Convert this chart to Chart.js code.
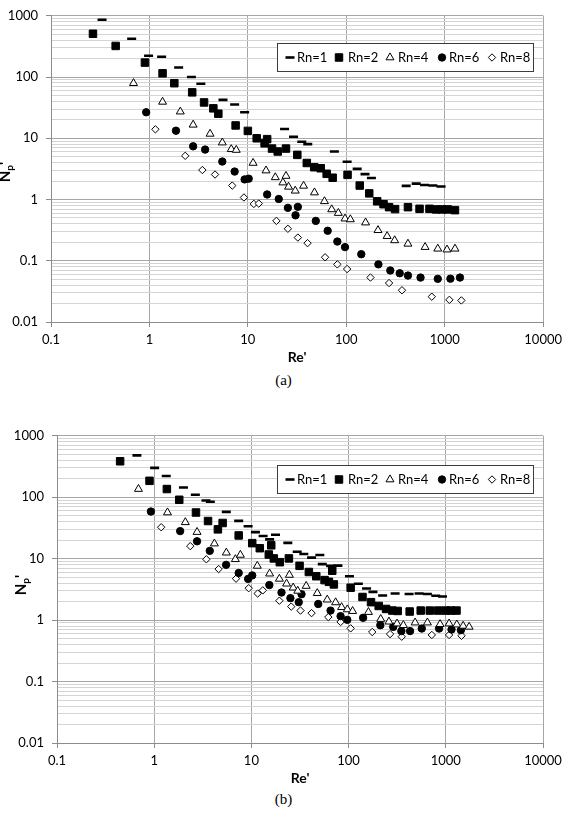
<!DOCTYPE html>
<html><head><meta charset="utf-8">
<script src="https://cdn.jsdelivr.net/npm/chart.js@4.4.1/dist/chart.umd.min.js"></script>
<style>
body{margin:0;background:#fff;width:567px;height:815px;position:relative;overflow:hidden;font-family:Lato,sans-serif}
.wrap{position:absolute;left:0;width:567px;height:370px}
canvas{display:block}
.ytitle{position:absolute;width:40px;height:20px;line-height:20px;text-align:center;font:bold 15px Lato,sans-serif;transform:rotate(-90deg);color:#000;white-space:nowrap}
.ytitle sub{font-size:10px;vertical-align:-3px}
.cap{position:absolute;left:0;width:567px;text-align:center;font:15px "Liberation Serif",serif;color:#000}
</style></head>
<body>
<div class="wrap" style="top:0"><canvas id="ca" width="567" height="370"></canvas></div>
<div class="wrap" style="top:420px"><canvas id="cb" width="567" height="370"></canvas></div>
<div class="ytitle" style="left:-15px;top:162px">N<sub>p</sub>'</div>
<div class="ytitle" style="left:1px;top:575px">N<sub>p</sub>'</div>
<div class="cap" style="top:372px">(a)</div>
<div class="cap" style="top:791px">(b)</div>
<script>
// ---------- data ----------
const seriesLabels = ['Rn=1','Rn=2','Rn=4','Rn=6','Rn=8'];
const xTickValues = [0.1,1,10,100,1000,10000];
const xTickLabels = ['0.1','1','10','100','1000','10000'];
const yTickValues = [0.01,0.1,1,10,100,1000];
const yTickLabels = ['0.01','0.1','1','10','100','1000'];

// (a)
const a_rn1_re = [0.33,0.66,0.98,1.33,1.98,2.67,3.33,5.59,7.34,9.27,23.6,29.1,35.3,40.6,75.7,102,129,155,180,406,513,624,757,918];
const a_rn1_np = [863,423,223,215,143,100,77.5,42.4,35.7,26.6,14.2,10.6,8.79,8.04,6.08,4.14,3.16,2.60,2.24,1.67,1.82,1.73,1.69,1.63];
const a_rn2_re = [0.267,0.454,0.90,1.36,1.79,2.72,3.59,4.46,5.01,7.51,10.0,12.3,15.7,14.8,17.6,20.1,24.4,31.8,39.7,47.2,55.0,63.2,72.7,103,137,171,206,239,272,313,423,555,700,817,940,1072,1271];
const a_rn2_np = [509,322,172,115,79.3,56.2,38.5,30.8,25.2,16.2,13.2,10.0,9.68,8.26,6.79,6.08,6.79,5.36,3.95,3.37,3.24,2.63,2.27,2.53,1.69,1.26,0.935,0.838,0.75,0.697,0.75,0.705,0.705,0.69,0.69,0.69,0.671];
const a_rn4_re = [0.689,1.36,2.06,2.78,4.13,5.5,6.78,7.62,11.3,15.3,19.0,24.4,22.7,25.9,30.3,36.8,47.5,60,71.1,83,97,110,157,210,260,310,423,632,850,1055,1271];
const a_rn4_np = [79.3,39.3,27.2,16.6,11.8,8.5,6.62,6.44,3.95,2.97,2.30,2.42,1.89,1.61,1.39,1.67,1.30,0.935,0.689,0.601,0.487,0.473,0.42,0.315,0.252,0.215,0.189,0.167,0.157,0.152,0.157];
const a_rn6_re = [0.927,1.86,2.78,3.68,5.5,7.34,9.27,10.2,15.7,20.6,25.5,32.2,30.5,49,64.7,81.1,97,142,212,280,349,423,568,850,1142,1428];
const a_rn6_np = [26.6,13.3,7.39,6.54,4.17,2.86,2.13,2.19,1.21,1.02,0.731,0.759,0.552,0.448,0.309,0.206,0.167,0.128,0.0873,0.0693,0.0625,0.0573,0.0532,0.0507,0.051,0.0532];
const a_rn8_re = [1.15,2.31,3.45,4.64,6.94,9.12,11.5,12.9,19.5,25.5,32.2,40.4,60.9,81.1,102,176,272,368,739,1115,1476];
const a_rn8_np = [14.0,5.17,3.03,2.56,1.69,1.08,0.847,0.86,0.448,0.333,0.239,0.194,0.114,0.0873,0.0733,0.0532,0.0433,0.033,0.0259,0.023,0.0225];

// (b)
const b_rn1_re = [0.664,1.01,1.33,2.0,2.65,3.41,3.78,5.52,7.4,9.25,11.0,13.2,15.4,17.7,23.7,29.6,34.6,41.6,50.6,53.6,65.2,77.6,102,126,153,178,224,301,419,531,647,789,925];
const b_rn1_np = [480,301,222,144,110,88.6,84.5,57.7,41.3,33.7,27.1,23.4,20.6,24.5,18.1,13.0,11.9,10.4,11.5,8.14,7.65,7.72,5.18,3.91,3.27,2.88,2.51,2.71,2.66,2.71,2.66,2.49,2.42];
const b_rn2_re = [0.446,0.895,1.35,1.81,2.69,3.58,5.06,4.52,7.4,10.2,12.2,16.0,15.1,17.0,19.6,24.3,31.3,39.0,46.5,56.6,62.7,70.5,67.9,105,139,170,204,243,282,320,425,552,684,833,1000,1127,1289];
const b_rn2_np = [385,185,136,90.9,56.4,41.0,38.1,30.0,23.9,17.9,14.8,16.5,11.7,10.1,8.77,10.1,7.65,6.07,5.18,4.48,4.2,3.81,6.37,3.37,2.38,1.96,1.70,1.52,1.43,1.41,1.38,1.43,1.43,1.43,1.43,1.43,1.43];
const b_rn4_re = [0.689,1.37,2.09,2.76,4.16,5.52,6.84,7.7,11.5,15.4,19.4,24.6,23.0,26.9,30.0,36.6,47.6,60.3,73.5,84.7,97,110,160,214,260,315,366,483,647,873,1081,1298,1507,1738];
const b_rn4_np = [136,56.4,39.1,27.1,17.6,12.5,9.78,11.5,7.62,5.7,4.69,5.43,3.91,3.37,2.99,3.59,2.74,2.15,1.94,1.62,1.49,1.40,1.35,1.04,0.942,0.877,0.826,0.91,0.91,0.857,0.877,0.845,0.805,0.776];
const b_rn6_re = [0.925,1.85,2.76,3.73,5.49,7.4,9.25,10.2,15.3,20.4,25.2,30.7,32.8,48.7,65.2,82.7,97,141,212,288,349,429,566,853,1145,1429];
const b_rn6_np = [58.5,28.1,19.2,13.4,7.94,5.85,4.69,5.34,3.72,2.81,2.28,1.96,2.64,1.83,1.43,1.16,1.01,1.09,0.826,0.776,0.663,0.663,0.729,0.729,0.703,0.687];
const b_rn8_re = [1.18,2.35,3.44,4.6,6.95,9.38,11.6,13.1,19.4,25.7,32.0,41.6,61.8,82.7,105,175,267,352,718,1081,1452];
const b_rn8_np = [32.5,16.0,9.78,6.78,4.73,3.31,2.71,3.05,2.07,1.66,1.43,1.30,1.12,0.933,0.734,0.641,0.593,0.537,0.573,0.573,0.557];

// ---------- styles ----------
const markerStyles = [
  {pointStyle:'line', radius:4.5, borderWidth:2.6, fill:'#000'},
  {pointStyle:'rect', radius:5.3, borderWidth:1, fill:'#000'},
  {pointStyle:'triangle', radius:4.6, borderWidth:1, fill:'#fff'},
  {pointStyle:'circle', radius:3.7, borderWidth:1, fill:'#000'},
  {pointStyle:'rectRot', radius:3.7, borderWidth:1, fill:'#fff'}
];
const legendMarkerX = [290, 339, 390, 442, 492];
const legendTextX = [297, 348, 398, 449, 500];

// minor grid positions for the log y axis (1..9 x 10^k)
const yGrid = [];
for (let e = -2; e <= 3; e++) {
  for (let m = 1; m <= 9; m++) {
    const v = parseFloat((m * Math.pow(10, e)).toPrecision(3));
    if (v <= 1000) yGrid.push(v);
  }
}

function drawMarker(ctx, st, x, y) {
  const r = st.radius;
  ctx.beginPath();
  if (st.pointStyle === 'line') {
    ctx.moveTo(x - r, y); ctx.lineTo(x + r, y);
  } else if (st.pointStyle === 'rect') {
    const s = Math.SQRT1_2 * r; ctx.rect(x - s, y - s, 2 * s, 2 * s);
  } else if (st.pointStyle === 'triangle') {
    for (let k = 0; k < 3; k++) {
      const a = k * 2 * Math.PI / 3;
      const px = x + Math.sin(a) * r, py = y - Math.cos(a) * r;
      if (k === 0) ctx.moveTo(px, py); else ctx.lineTo(px, py);
    }
    ctx.closePath();
  } else if (st.pointStyle === 'circle') {
    ctx.arc(x, y, r, 0, Math.PI * 2);
  } else if (st.pointStyle === 'rectRot') {
    ctx.moveTo(x - r, y); ctx.lineTo(x, y - r); ctx.lineTo(x + r, y); ctx.lineTo(x, y + r); ctx.closePath();
  }
  ctx.fillStyle = st.fill; ctx.strokeStyle = '#000'; ctx.lineWidth = st.borderWidth;
  if (st.pointStyle !== 'line') ctx.fill();
  ctx.stroke();
}

const boxLegend = {
  id: 'boxLegend',
  afterDatasetsDraw(chart, args, o) {
    const ctx = chart.ctx;
    ctx.save();
    ctx.fillStyle = '#fff';
    ctx.fillRect(o.x, o.y, o.w, o.h);
    ctx.strokeStyle = '#3c3c3c'; ctx.lineWidth = 1;
    ctx.strokeRect(o.x + 0.5, o.y + 0.5, o.w, o.h);
    const cy = o.y + o.h / 2 + 0.5;
    seriesLabels.forEach((lab, i) => {
      drawMarker(ctx, markerStyles[i], legendMarkerX[i], cy);
      ctx.fillStyle = '#000'; ctx.font = '13px Lato, sans-serif';
      ctx.textBaseline = 'middle'; ctx.textAlign = 'left';
      ctx.fillText(lab, legendTextX[i], cy + 0.5);
    });
    ctx.restore();
  }
};

function isMajor(v) {
  const l = Math.log10(v);
  return Math.abs(l - Math.round(l)) < 1e-6;
}

function makeChart(id, series, g) {
  const datasets = series.map((s, i) => {
    const st = markerStyles[i];
    return {
      label: seriesLabels[i],
      data: s[0].map((x, k) => ({x: x, y: s[1][k]})),
      showLine: false,
      pointStyle: st.pointStyle,
      pointRadius: st.radius,
      pointBorderWidth: st.borderWidth,
      pointBackgroundColor: st.fill,
      pointBorderColor: '#000',
      backgroundColor: st.fill,
      borderColor: '#000'
    };
  });
  return new Chart(document.getElementById(id), {
    type: 'scatter',
    data: {datasets},
    plugins: [boxLegend],
    options: {
      responsive: false,
      animation: false,
      devicePixelRatio: 1,
      events: [],
      layout: {padding: {left: 0, right: g.padRight, top: 10, bottom: 0}},
      plugins: {
        legend: {display: false},
        tooltip: {enabled: false},
        boxLegend: {x: 277, y: g.legendY, w: 256, h: 28}
      },
      scales: {
        x: {
          type: 'logarithmic', min: 0.1, max: 10000,
          afterBuildTicks: (sc) => { sc.ticks = xTickValues.map(v => ({value: v})); },
          afterFit: (sc) => { sc.height = g.axisH; },
          ticks: {
            autoSkip: false, maxRotation: 0, padding: 5, color: '#000',
            font: {family: 'Lato', size: 13},
            callback: (v) => { const i = xTickValues.indexOf(v); return i >= 0 ? xTickLabels[i] : ''; }
          },
          grid: {color: '#a6a6a6', tickColor: '#8c8c8c', tickLength: 5, lineWidth: 1},
          border: {color: '#8c8c8c'},
          title: {display: true, text: "Re'", color: '#000', font: {family: 'Lato', size: 14, weight: 'bold'}, padding: {top: 0, bottom: g.titlePad}}
        },
        y: {
          type: 'logarithmic', min: 0.01, max: 1000,
          afterBuildTicks: (sc) => { sc.ticks = yGrid.map(v => ({value: v})); },
          afterFit: (sc) => { sc.width = g.left; },
          ticks: {
            autoSkip: false, padding: 8, color: '#000',
            font: {family: 'Lato', size: 13},
            callback: (v) => { const i = yTickValues.indexOf(v); return i >= 0 ? yTickLabels[i] : ''; }
          },
          grid: {
            color: (c) => (c.tick && isMajor(c.tick.value)) ? '#a6a6a6' : '#d4d4d4',
            tickColor: (c) => (c.tick && isMajor(c.tick.value)) ? '#8c8c8c' : 'rgba(0,0,0,0)',
            tickLength: 5, lineWidth: 1
          },
          border: {color: '#8c8c8c'}
        }
      }
    }
  });
}

makeChart('ca', [
  [a_rn1_re, a_rn1_np], [a_rn2_re, a_rn2_np], [a_rn4_re, a_rn4_np], [a_rn6_re, a_rn6_np], [a_rn8_re, a_rn8_np]
], {left: 51, padRight: 21, axisH: 48, titlePad: 4, legendY: 43});

makeChart('cb', [
  [b_rn1_re, b_rn1_np], [b_rn2_re, b_rn2_np], [b_rn4_re, b_rn4_np], [b_rn6_re, b_rn6_np], [b_rn8_re, b_rn8_np]
], {left: 57, padRight: 24, axisH: 47, titlePad: 3, legendY: 45});
</script>
</body></html>
